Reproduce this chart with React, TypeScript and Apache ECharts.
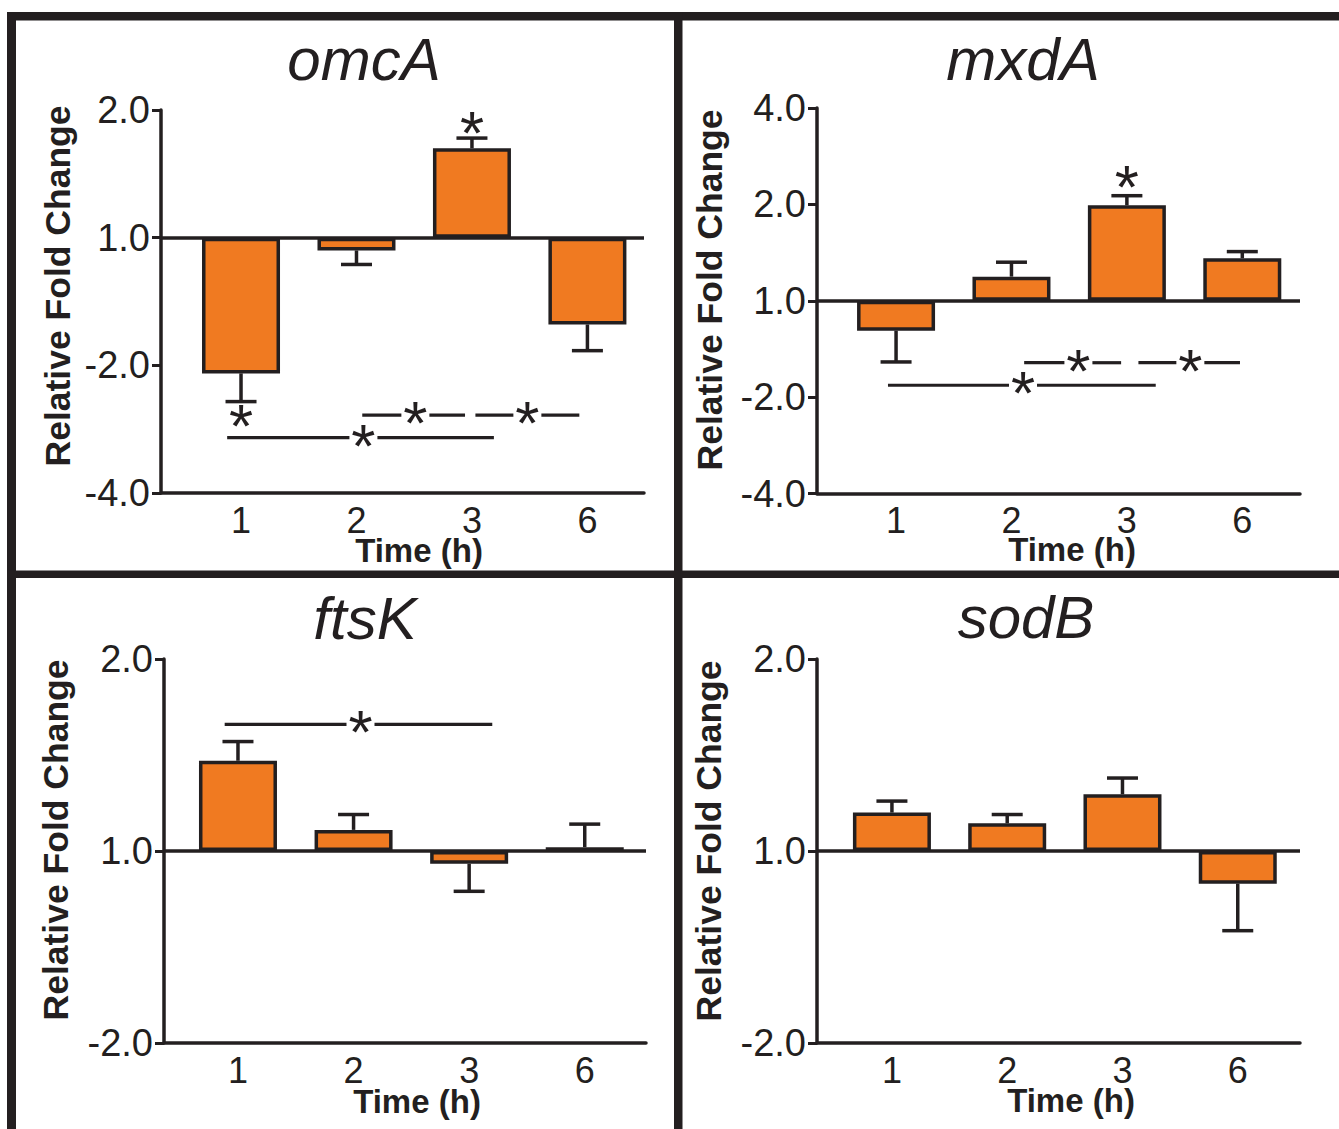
import React, { useEffect, useRef } from "react";
import * as echarts from "echarts";

// ---------- data (values in log2 units: 0 = 1.0-fold, 1 = 2.0, -1 = -2.0 ...) ----------
const timeLabels = ["1", "2", "3", "6"];
const timePositions = [1, 2, 3, 4];

const omcaMean = [-1.063, -0.1, 0.7, -0.68];
const omcaErrEnd = [-1.284, -0.21, 0.78, -0.885];
const mxdaMean = [-0.31, 0.25, 0.99, 0.44];
const mxdaErrEnd = [-0.635, 0.4, 1.09, 0.51];
const ftskMean = [0.47, 0.11, -0.066, 0.02];
const ftskErrEnd = [0.57, 0.19, -0.21, 0.14];
const sodbMean = [0.2, 0.144, 0.295, -0.17];
const sodbErrEnd = [0.26, 0.19, 0.38, -0.415];

// significance brackets: [fromPos, toPos, level, starPos]
const omcaBrackets = [
  [2.05, 2.94, -1.39, 2.51],
  [3.03, 3.93, -1.39, 3.48],
  [0.88, 3.19, -1.566, 2.06],
];
const omcaStars = [
  [3, 0.88],
  [1, -1.41],
];
const mxdaBrackets = [
  [2.11, 2.95, -0.643, 2.58],
  [3.1, 3.98, -0.643, 3.55],
  [0.93, 3.25, -0.877, 2.1],
];
const mxdaStars = [[3, 1.26]];
const ftskBrackets = [[0.885, 3.2, 0.66, 2.06]];
const ftskStars: number[][] = [];
const sodbBrackets: number[][] = [];
const sodbStars: number[][] = [];

// y tick labels (log2 position -> fold-change label)
const foldTickLabels: Record<string, string> = {
  "-2": "-4.0",
  "-1": "-2.0",
  "0": "1.0",
  "1": "2.0",
  "2": "4.0",
};

const geneNames = ["omcA", "mxdA", "ftsK", "sodB"];
const yAxisTitle = "Relative Fold Change";
const xAxisTitle = "Time (h)";

// ---------- styling ----------
const INK = "#231f20";
const ORANGE = "#f07a21";
const FONT = '"Liberation Sans", Arial, Helvetica, sans-serif';

const panels = [
  {
    name: geneNames[0], mean: omcaMean, err: omcaErrEnd, brackets: omcaBrackets, stars: omcaStars,
    yMin: -2, yMax: 1,
    grid: { left: 161, top: 110, width: 483, height: 383 },
    xMin: 0.307, xMax: 4.49,
    title: [364, 59], yTitle: [58, 286], xTitle: [419, 550],
  },
  {
    name: geneNames[1], mean: mxdaMean, err: mxdaErrEnd, brackets: mxdaBrackets, stars: mxdaStars,
    yMin: -2, yMax: 2,
    grid: { left: 817, top: 108, width: 483, height: 385.5 },
    xMin: 0.315, xMax: 4.5,
    title: [1023, 59], yTitle: [710, 290], xTitle: [1072, 549],
  },
  {
    name: geneNames[2], mean: ftskMean, err: ftskErrEnd, brackets: ftskBrackets, stars: ftskStars,
    yMin: -1, yMax: 1,
    grid: { left: 164, top: 659, width: 482, height: 384 },
    xMin: 0.36, xMax: 4.53,
    title: [365, 618], yTitle: [56, 840], xTitle: [417, 1101],
  },
  {
    name: geneNames[3], mean: sodbMean, err: sodbErrEnd, brackets: sodbBrackets, stars: sodbStars,
    yMin: -1, yMax: 1,
    grid: { left: 817, top: 659, width: 483, height: 384 },
    xMin: 0.35, xMax: 4.54,
    title: [1026, 617], yTitle: [709, 841], xTitle: [1071, 1100],
  },
];

const STAR_SIZE = 62;
const STAR_SHIFT = 0.12;

function starText(x: number, y: number) {
  return {
    type: "text",
    x,
    y: y + STAR_SIZE * STAR_SHIFT,
    style: { text: "*", font: `${STAR_SIZE}px ${FONT}`, fill: INK, align: "center", verticalAlign: "middle" },
  };
}

function buildOption() {
  const grids: any[] = [];
  const xAxes: any[] = [];
  const yAxes: any[] = [];
  const series: any[] = [];
  const graphics: any[] = [];

  panels.forEach((p, i) => {
    grids.push({ ...p.grid, containLabel: false });
    xAxes.push({
      type: "value",
      gridIndex: i,
      min: p.xMin,
      max: p.xMax,
      axisLine: { show: true, onZero: false, lineStyle: { color: INK, width: 3.5 } },
      axisTick: { show: false },
      splitLine: { show: false },
      axisLabel: {
        customValues: timePositions,
        formatter: (v: number) => timeLabels[Math.round(v) - 1] ?? "",
        fontSize: 36,
        fontFamily: FONT,
        color: INK,
        margin: 9,
      },
    });
    yAxes.push({
      type: "value",
      gridIndex: i,
      min: p.yMin,
      max: p.yMax,
      interval: 1,
      axisLine: { show: true, onZero: false, lineStyle: { color: INK, width: 3.5 } },
      axisTick: { show: true, length: 9, lineStyle: { color: INK, width: 3 } },
      splitLine: { show: false },
      axisLabel: {
        formatter: (v: number) => foldTickLabels[String(Math.round(v))] ?? "",
        fontSize: 38,
        fontFamily: FONT,
        color: INK,
        margin: 11,
      },
    });

    series.push({
      type: "bar",
      xAxisIndex: i,
      yAxisIndex: i,
      barWidth: 78,
      data: timePositions.map((x, k) => [x, p.mean[k]]),
      itemStyle: { color: ORANGE, borderColor: INK, borderWidth: 3.5 },
      z: 3,
      markLine: {
        silent: true,
        symbol: "none",
        label: { show: false },
        lineStyle: { color: INK, width: 3.5, type: "solid" },
        data: [{ yAxis: 0 }],
        z: 5,
      },
    });

    series.push({
      type: "custom",
      xAxisIndex: i,
      yAxisIndex: i,
      z: 2,
      data: timePositions.map((x, k) => [x, p.mean[k], p.err[k]]),
      renderItem: (_params: any, api: any) => {
        const x = api.value(0);
        const a = api.coord([x, api.value(1)]);
        const b = api.coord([x, api.value(2)]);
        return {
          type: "group",
          children: [
            { type: "line", shape: { x1: a[0], y1: a[1], x2: b[0], y2: b[1] }, style: { stroke: INK, lineWidth: 3.5 } },
            { type: "line", shape: { x1: b[0] - 15.5, y1: b[1], x2: b[0] + 15.5, y2: b[1] }, style: { stroke: INK, lineWidth: 3.5 } },
          ],
        };
      },
    });

    if (p.brackets.length) {
      series.push({
        type: "custom",
        xAxisIndex: i,
        yAxisIndex: i,
        z: 6,
        data: p.brackets,
        renderItem: (_params: any, api: any) => {
          const y = api.value(2);
          const a = api.coord([api.value(0), y]);
          const b = api.coord([api.value(1), y]);
          const s = api.coord([api.value(3), y]);
          const gap = 14;
          return {
            type: "group",
            children: [
              { type: "line", shape: { x1: a[0], y1: a[1], x2: s[0] - gap, y2: a[1] }, style: { stroke: INK, lineWidth: 3.2 } },
              { type: "line", shape: { x1: s[0] + gap, y1: a[1], x2: b[0], y2: a[1] }, style: { stroke: INK, lineWidth: 3.2 } },
              starText(s[0], s[1]),
            ],
          };
        },
      });
    }
    if (p.stars.length) {
      series.push({
        type: "custom",
        xAxisIndex: i,
        yAxisIndex: i,
        z: 6,
        data: p.stars,
        renderItem: (_params: any, api: any) => {
          const s = api.coord([api.value(0), api.value(1)]);
          return starText(s[0], s[1]);
        },
      });
    }

    graphics.push({
      type: "text",
      x: p.title[0],
      y: p.title[1],
      style: { text: p.name, font: `italic 60px ${FONT}`, fill: INK, align: "center", verticalAlign: "middle" },
    });
    graphics.push({
      type: "text",
      x: p.yTitle[0],
      y: p.yTitle[1],
      rotation: Math.PI / 2,
      style: { text: yAxisTitle, font: `bold 35.5px ${FONT}`, fill: INK, align: "center", verticalAlign: "middle" },
    });
    graphics.push({
      type: "text",
      x: p.xTitle[0],
      y: p.xTitle[1],
      style: { text: xAxisTitle, font: `bold 33px ${FONT}`, fill: INK, align: "center", verticalAlign: "middle" },
    });
  });

  // panel frame
  const frame = [
    { x: 7, y: 12, width: 1332, height: 8.5 },
    { x: 7, y: 12, width: 9, height: 1117 },
    { x: 674, y: 12, width: 8.5, height: 1117 },
    { x: 7, y: 570.5, width: 1332, height: 7.5 },
  ];
  frame.forEach((r) => graphics.push({ type: "rect", shape: r, style: { fill: INK }, z: 10 }));

  return {
    animation: false,
    backgroundColor: "#ffffff",
    grid: grids,
    xAxis: xAxes,
    yAxis: yAxes,
    series,
    graphic: graphics,
  };
}

export default function App() {
  const ref = useRef<HTMLDivElement>(null);
  useEffect(() => {
    if (!ref.current) return;
    const chart = echarts.init(ref.current, undefined, { renderer: "svg" });
    chart.setOption(buildOption() as any);
    return () => chart.dispose();
  }, []);
  return (
    <div
      ref={ref}
      style={{ position: "fixed", left: 0, top: 0, width: 1339, height: 1129, background: "#fff" }}
    />
  );
}
